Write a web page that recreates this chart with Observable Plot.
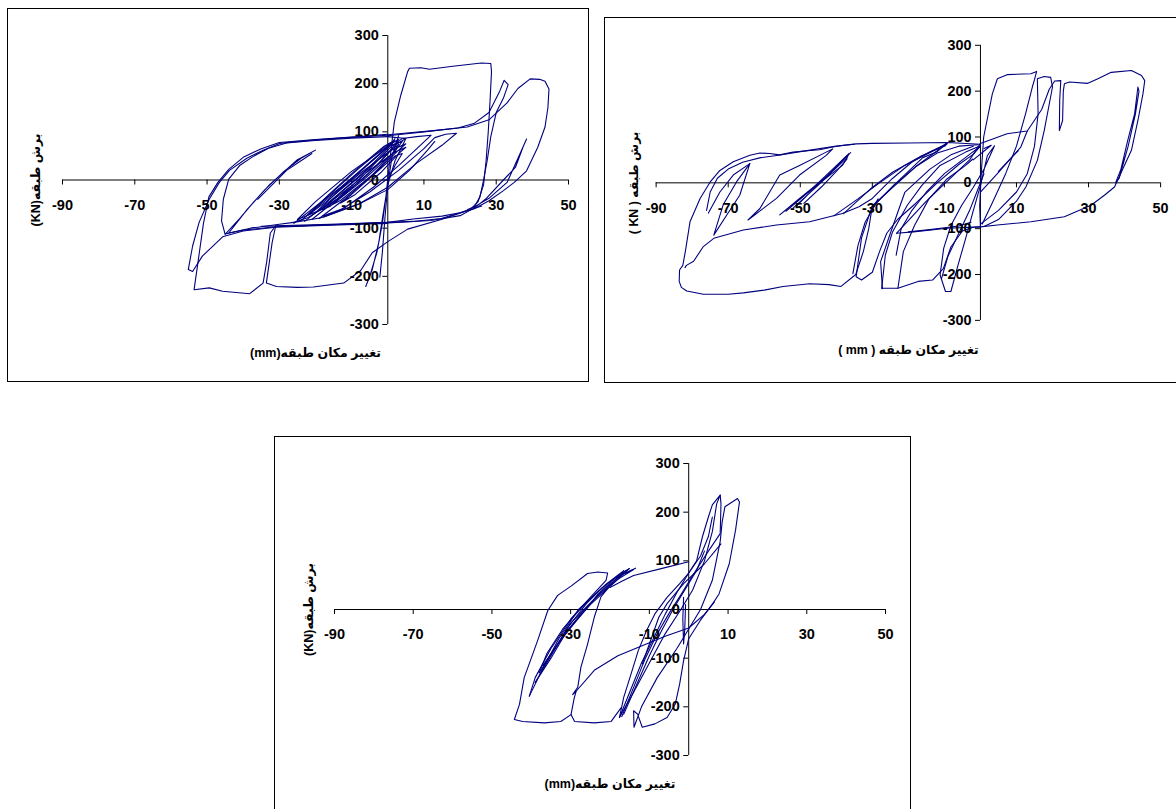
<!DOCTYPE html>
<html>
<head>
<meta charset="utf-8">
<script src="https://cdn.jsdelivr.net/npm/d3@7"></script>
<script src="https://cdn.jsdelivr.net/npm/@observablehq/plot@0.6"></script>
<style>
  html, body { margin: 0; padding: 0; background: #fff; }
  body { width: 1176px; height: 809px; overflow: hidden; position: relative; font-family: "Liberation Sans", Arial, "DejaVu Sans", sans-serif; }
  .box { position: absolute; border: 1.5px solid #000; box-sizing: border-box; }
  .holder { position: absolute; }
  .holder svg { overflow: visible; }
</style>
</head>
<body>
<script>
// ---------- shared tick values ----------
const xTicks = [-90, -70, -50, -30, -10, 10, 30, 50];
const yTicks = [-300, -200, -100, 0, 100, 200, 300];

// ---------- axis titles ----------
const xTitle1 = "تغییر مکان طبقه(mm)";
const yTitle1 = "برش طبقه(KN)";
const xTitle2 = "تغییر مکان طبقه ( mm )";
const yTitle2 = "برش طبقه ( KN )";
const xTitle3 = "تغییر مکان طبقه(mm)";
const yTitle3 = "برش طبقه(KN)";

// ---------- panel 1 : displacement (mm), shear (KN) strokes ----------
const p1Strokes = [
  [[0,0],[2,30],[4,55],[2,50],[-4,10],[-10,-30],[-13,-48],[-9,-30],[-2,15],[3,55],[5,68],[2,58],[-6,15],[-14,-40],[-18,-62],[-13,-42],[-4,12],[3,62],[5,75],[1,62],[-8,12],[-17,-45],[-22,-72],[-16,-55],[-6,5],[2,60],[4,80],[0,70],[-10,18],[-20,-45],[-25,-82],[-19,-64],[-8,0],[1,70],[4,86]],
  [[-24,-84],[-16,-35],[-8,15],[-2,55],[1,78],[-1,70],[-9,20],[-17,-35],[-23,-78]],
  [[-23,-86],[-15,-38],[-7,12],[-1,58],[2,82],[0,74],[-8,24],[-16,-30],[-22,-72]],
  [[-21,-82],[-14,-40],[-6,8],[0,55],[3,84],[1,76],[-6,30],[-14,-25],[-20,-68]],
  [[-19,-80],[-12,-40],[-5,5],[1,52],[3,74],[-3,40],[-11,-12],[-18,-60]],
  [[-26,-90],[-20,-55],[-13,-15],[-6,30],[0,68],[2,86]],
  [[4,86],[8,90],[12,93],[9,72],[3,30],[-4,-15],[-12,-58],[-18,-75],[-14,-66],[-5,-25],[3,20],[10,65],[13,88],[16,95],[19,97],[15,72],[8,35],[0,-15],[-8,-50],[-18,-78],[-26,-88],[-22,-78],[-12,-30],[-3,30],[2,72],[5,86],[0,90]],
  [[-17,-74],[-8,-50],[0,-20],[6,20],[11,62],[13,80]],
  [[0,90],[-10,87],[-20,82],[-28,77],[-33,66],[-37,50],[-41,30],[-44,2],[-45.5,-40],[-46,-85],[-45,-113],[-41,-80],[-37,-45],[-33,-12],[-29,15],[-25,42],[-20,62],[-24,45],[-29,16],[-34,-20],[-39,-62],[-44,-110],[-40,-104],[-31,-97],[-16,-93],[0,-89],[12,-84],[20,-74],[23,-62]],
  [[-45,-112],[-38,-100],[-30,-92],[-26,-88]],
  [[-36,-40],[-32,-10],[-28,20],[-24,40],[-21,55]],
  [[5,86],[2,40],[0,-10],[-1.5,-80],[-2.5,-130],[-4.3,-186],[-6.1,-221],[-5,-200],[-3,-150],[-1.5,-90],[-0.6,-40],[0.4,30],[1.8,120],[3.6,176],[5.5,225],[6,232],[9.2,233],[11.5,230],[18,236],[25.9,243],[28.5,242],[28.7,225],[28.3,165],[27.8,100],[27.2,40],[26.5,-10],[25,-45],[23,-60],[20,-68],[14.8,-80],[7,-86],[0,-88],[-16,-92],[-31,-95]],
  [[-31,-95],[-32,-130],[-33.6,-214],[-30.8,-221],[-25,-223],[-20.6,-222],[-12.2,-214],[-7.5,-188],[-4.3,-151],[0,-128],[5.5,-102],[14.8,-82],[22,-64],[26,-54]],
  [[0,92],[10,100],[19.4,108],[24,118],[28,140],[31,185],[32.2,207],[33.3,198],[32,170],[30,140],[28.5,90],[27.5,40],[26.5,0],[25.5,-35],[24,-55],[22,-62]],
  [[0,94],[12,102],[22,110],[28,125],[33,160],[36,190],[39.4,210],[42,209],[43.5,205],[44.6,189],[44.3,150],[43.5,110],[41.5,68],[38.4,19],[35,-5],[32,-22],[28,-43],[23.8,-60],[20,-68],[15,-75],[7,-81],[0,-88],[-12,-92],[-24,-95],[-35,-96]],
  [[23,-60],[28,-38],[33,-5],[36.3,50],[38.4,85],[37.5,70],[35.3,26],[32,0],[27,-40],[24,-58]],
  [[0,93],[-11.3,88],[-20.6,83],[-29.9,76],[-34.5,62],[-39,45],[-43.8,20],[-46.6,-5],[-49.4,-40],[-52.2,-88],[-54,-137],[-55.2,-186],[-54,-190],[-51.3,-158],[-45.7,-118],[-40,-106],[-31,-98],[-16,-94],[0,-90]],
  [[0,95],[-10,89],[-20,84],[-30,78],[-35,65],[-40,47],[-44,22],[-47,-5],[-49.5,-35],[-51,-90],[-52.5,-170],[-53.6,-228],[-49.4,-224],[-45.7,-231],[-38.2,-236],[-34.5,-214],[-33.5,-170],[-32.5,-110],[-31,-95]],
  [[-2.2,-202],[-1.5,-150],[-0.8,-80],[0,-10],[1.2,50],[3,92]]
];

// ---------- panel 2 ----------
const p2Strokes = [
  [[0,84],[-9.2,88],[-20,87],[-30,86],[-34.5,85],[-38,82],[-41,78],[-44.7,72],[-48,70],[-52,67],[-55.7,61],[-58.5,64],[-61.2,65],[-64,60],[-68.6,46],[-72.3,27],[-75,2],[-77.8,-34],[-80.6,-85],[-81.9,-150],[-82.6,-180],[-83.5,-190],[-83.6,-215],[-83,-228],[-81.5,-236],[-76.9,-243],[-70,-243],[-65.8,-240],[-60,-234],[-54.8,-226],[-47.4,-220],[-42,-222],[-38.7,-226],[-34.6,-200],[-32.5,-150],[-31,-100],[-30.2,-60],[-28.4,-35]],
  [[-82,-185],[-81.6,-180],[-79.6,-171],[-76.9,-139],[-74,-121],[-65.8,-103],[-56.6,-92],[-47.4,-85],[-38.3,-67],[-33.7,-52],[-30,-34],[-24.5,9],[-18.9,46],[-14,68],[-9.2,85]],
  [[-76,-60],[-75,-20],[-73,10],[-70,30],[-66,45],[-61,55],[-56,60],[-50,68],[-45,74],[-40,80],[-35,84]],
  [[-74,-114],[-70.4,-70],[-66.8,-27],[-64,42],[-67.7,2],[-71.4,-48],[-74,-114]],
  [[-75.5,-66],[-72.3,-20],[-68.6,17],[-64,42]],
  [[-64.5,-81],[-61.2,-56],[-55.7,17],[-50.2,38],[-42.8,67],[-41,74],[-42.8,60],[-50.2,17],[-56.6,-34],[-64.5,-81]],
  [[-55.7,-70],[-50.2,-34],[-42.8,13],[-36.4,64],[-38.3,38],[-46.5,-12],[-55.7,-70]],
  [[-52,-55],[-45,-5],[-38,48],[-37,55],[-44,5],[-51,-50]],
  [[-54,-62],[-47,-15],[-41,30],[-37,60],[-36,66]],
  [[-49,-45],[-44,-8],[-40,25],[-37,52]],
  [[-38,-67],[-34.5,-42],[-30.5,-13],[-24.4,23],[-16.3,59],[-9.7,81],[-9.2,88]],
  [[-40.7,-72],[-34,-35],[-28,0],[-21,38],[-14,66],[-9.5,85]],
  [[-30,-53],[-24,-5],[-16,55],[-12,68],[-9.5,85]],
  [[-9.2,88],[-12,70],[-18,35],[-25,-15],[-30,-50],[-33,-120],[-34.5,-205],[-33,-212],[-30,-195],[-28,-150],[-26,-110],[-23,-80],[-18,-45],[-12,0],[-6,40],[-2,62],[0,80]],
  [[-35.4,-198],[-34,-137],[-32,-86],[-29,-45],[-24,-5],[-18,35],[-12,65],[-6,80],[-0.7,83]],
  [[-27.4,-230],[-26.4,-158],[-24.4,-107],[-20.3,-49],[-16.3,-6],[-11.2,38],[-4.1,67],[0,81]],
  [[-27.2,-231],[-27.7,-172],[-25,-110],[-21,-21],[-14,30],[-8,62],[-2,80]],
  [[-27.4,-230],[-24,-230],[-22.9,-230],[-21.4,-150],[-18.3,-93],[-14.3,-35],[-9.2,9],[-4.1,38],[-2.1,52]],
  [[-22.9,-230],[-17.3,-215],[-13.3,-212],[-10.3,-187],[-8.2,-140],[-5,-105],[-2,-97],[0,-96]],
  [[-23.4,-158],[-22,-100],[-19,-60],[-15,-20],[-10,20],[-5,50],[0,80]],
  [[-11.2,-201],[-10.2,-143],[-8.2,-93],[-5.2,-49],[-2,-10],[1,30],[3.9,81],[1.9,59],[0,-6],[-2.1,-64],[-4.1,-121],[-6.2,-179],[-8.2,-237],[-9.7,-237],[-11.2,-201]],
  [[-10.8,-209],[-9,-160],[-6,-110],[-3,-60],[-1,-20],[1,20]],
  [[-20,-107],[-14,-102],[-6,-94],[-2.6,-86]],
  [[-23.3,-110],[-18.6,-107],[-9.3,-99],[0,-96]],
  [[-23.3,-110],[-15,-40],[-7,20],[-3,50],[0,86]],
  [[0,-96],[-0.2,-50],[0.3,30],[0.9,100],[3.3,194],[4.7,227],[7.4,236],[14,238],[15.6,243],[15,225],[14.4,209],[12.5,150],[10,80],[7,20],[3.5,-40],[0.5,-90]],
  [[0,-90],[5,-60],[10,-20],[13,20],[15,80],[16,150],[15.8,227],[17.7,232],[19.5,230],[20,209],[17.7,114],[15.8,49],[12.6,-9],[10,-40],[5,-80],[1,-95]],
  [[0,86],[7.4,107],[13,113],[17,160],[19.1,204],[20.6,222],[22.3,223],[22,180],[21.9,114],[22.8,136],[23,200],[23.3,216],[24.7,220],[29.8,217],[32.6,227],[36.3,241],[41.9,245],[44.7,234],[45.6,223],[45.1,194],[43.7,136],[41.9,71],[38.1,6],[37.2,-9],[34.4,-27],[30.7,-49],[23.3,-74],[14,-85],[4.7,-92],[0,-96]],
  [[43.7,209],[42.8,151],[40.9,93],[39,30],[37.5,0],[38.5,10],[41,80],[43,150],[44,200],[43.7,209]],
  [[0,-20],[4.7,20],[11.2,78],[13,113]],
  [[5,25],[8,50],[10.5,70]],
  [[-2,50],[3,82],[1,75]]
];

// ---------- panel 3 ----------
const p3Strokes = [
  [[-15.1,84],[-16.4,77],[-18.9,60],[-22.3,26],[-24,-16],[-25.7,-71],[-27.4,-119],[-28.2,-160],[-29.5,-175],[-28.6,-168],[-29.1,-182],[-29.9,-216],[-32.5,-230],[-36.7,-233],[-42.2,-230],[-44.3,-226],[-43,-195],[-41.8,-140],[-40,-100],[-38.4,-64],[-35.8,-2],[-33.3,29],[-29.9,48],[-25.7,74],[-23.1,77],[-20.6,75],[-21,60],[-25,25],[-30,-20],[-35,-80],[-39,-140],[-40.5,-178]],
  [[-40.5,-178],[-37,-120],[-33,-60],[-28,0],[-22,45],[-17,75],[-15.1,84],[-19,55],[-25,10],[-31,-45],[-35,-100],[-39,-150]],
  [[-39,-150],[-35,-95],[-31,-40],[-26,12],[-21,52],[-16.5,80],[-20,58],[-26,15],[-32,-40],[-36,-90],[-38,-130]],
  [[-38,-130],[-33,-68],[-28,-18],[-23,32],[-18.5,66],[-14,82],[-18,62],[-24,22],[-30,-28],[-34,-80],[-37,-115]],
  [[-37,-115],[-32,-55],[-27,-5],[-22,38],[-17,72],[-13.5,85]],
  [[-20,45],[-17,58],[-14,70],[-7,84],[0,98]],
  [[-29.9,-216],[-29,-230],[-24,-233],[-19.7,-230],[-17.2,-202]],
  [[-28.6,-168],[-24,-125],[-18,-95],[-12,-75],[-6,-55],[0,-38],[4,-10],[6.5,15]],
  [[-17.6,-222],[-16.5,-180],[-14.9,-139],[-12.8,-84],[-10.7,-43],[-8.6,-9],[-5.5,25],[-2.3,53],[0,75],[2,100],[3.5,150],[5,190],[6,215],[8,235],[7.1,217],[6,160],[4,100],[1,40],[-2,0],[-6,-50],[-10,-110],[-14,-170],[-17.6,-222]],
  [[-13.9,-242],[-14,-208],[-13,-215],[-11.8,-242],[-8.6,-235],[-5.5,-222],[-3.4,-194],[-2.3,-153],[-1.3,-105],[0,-60],[2.9,-23],[6.1,12],[7.7,32],[10.3,94],[11.9,163],[12.9,221],[12.4,228],[9.2,211],[8.5,180],[8,140],[6,60],[3,0],[0,-40],[-3,-80],[-8,-140],[-12,-200],[-13.9,-242]],
  [[-17.6,-222],[-15,-170],[-12,-110],[-9,-60],[-6,-10],[-3,35],[0,75],[3,110],[5,150],[6,190]],
  [[-16.5,-215],[-13,-150],[-10,-95],[-7,-45],[-4,0],[-1,40],[2,80],[4,120]],
  [[-17,-220],[-14,-160],[-11,-100],[-8,-50],[-5,-8],[-2,30],[1,70],[5,120],[8,156],[8.2,217],[8,235]],
  [[-1.3,25],[-1.5,-20],[-1.3,-71],[-1,-40],[-0.8,10]],
  [[8.2,135],[4,94],[-1.3,53],[-5.5,12],[-7.6,-16],[-11.8,-112]]
];

const FONT = '"Liberation Sans", Arial, "DejaVu Sans", sans-serif';
const LINE = "#00007f";

function drawPanel(strokes, o) {
  const rows = strokes.flatMap((s, i) => s.map(([x, y]) => ({x, y, s: i})));
  const box = document.createElement("div");
  box.className = "box";
  Object.assign(box.style, {left: o.boxL + "px", top: o.boxT + "px", width: o.boxW + "px", height: o.boxH + "px"});
  document.body.appendChild(box);

  const svg = Plot.plot({
    width: o.w, height: o.h,
    marginLeft: o.mL, marginRight: o.mR, marginTop: o.mT, marginBottom: o.mB,
    x: {domain: [-90, 50], axis: null},
    y: {domain: [-300, 300], axis: null},
    style: {fontFamily: FONT, background: "transparent", overflow: "visible"},
    marks: [
      Plot.ruleY([0], {x1: -90, x2: 50, stroke: "#000", strokeWidth: 1}),
      Plot.ruleX([0], {y1: -300, y2: 300, stroke: "#000", strokeWidth: 1}),
      Plot.ruleX(xTicks, {x: d => d, y1: 0, y2: 0, insetBottom: -5, stroke: "#000"}),
      Plot.ruleY(yTicks, {y: d => d, x1: 0, x2: 0, insetLeft: -5, stroke: "#000"}),
      Plot.line(rows, {x: "x", y: "y", z: "s", stroke: LINE, strokeWidth: 1.1, curve: "linear"}),
      Plot.text(xTicks, {x: d => d, y: 0, text: d => String(d), dy: o.xLabDy, fontSize: 14.5, fontWeight: "bold", fill: "#000", textAnchor: "middle", lineAnchor: "middle"}),
      Plot.text(yTicks, {x: 0, y: d => d, text: d => String(d), dx: -9, fontSize: 14.5, fontWeight: "bold", fill: "#000", textAnchor: "end", lineAnchor: "middle"}),
      Plot.text([o.xTitle], {frameAnchor: "bottom", dy: o.xTitleDy, text: d => d, fontSize: 12.5, fontWeight: "bold", fill: "#000", textAnchor: "middle", lineAnchor: "middle"}),
      Plot.text([o.yTitle], {frameAnchor: "left", dx: o.yTitleDx, text: d => d, rotate: -90, fontSize: 12.5, fontWeight: "bold", fill: "#000", textAnchor: "middle", lineAnchor: "middle"})
    ]
  });
  svg.querySelectorAll("text").forEach(t => {
    if (/[\u0600-\u06FF]/.test(t.textContent)) {
      t.setAttribute("direction", "rtl");
      t.style.direction = "rtl";
      t.style.unicodeBidi = "embed";
    }
  });
  const holder = document.createElement("div");
  holder.className = "holder";
  Object.assign(holder.style, {left: o.boxL + "px", top: o.boxT + "px"});
  holder.appendChild(svg);
  document.body.appendChild(holder);
}

drawPanel(p1Strokes, {boxL: 7, boxT: 8, boxW: 582, boxH: 374, w: 582, h: 374,
  mL: 55, mR: 21, mT: 27, mB: 58, xLabDy: 25, xTitle: xTitle1, yTitle: yTitle1, xTitleDy: 28, yTitleDx: -27});
drawPanel(p2Strokes, {boxL: 604, boxT: 17, boxW: 590, boxH: 366, w: 576, h: 366,
  mL: 52, mR: 16, mT: 28, mB: 61, xLabDy: 26, xTitle: xTitle2, yTitle: yTitle2, xTitleDy: 30, yTitleDx: -22});
drawPanel(p3Strokes, {boxL: 274, boxT: 436, boxW: 637, boxH: 390, w: 637, h: 379,
  mL: 60, mR: 26, mT: 27, mB: 60, xLabDy: 25, xTitle: xTitle3, yTitle: yTitle3, xTitleDy: 28, yTitleDx: -26});
</script>
</body>
</html>
